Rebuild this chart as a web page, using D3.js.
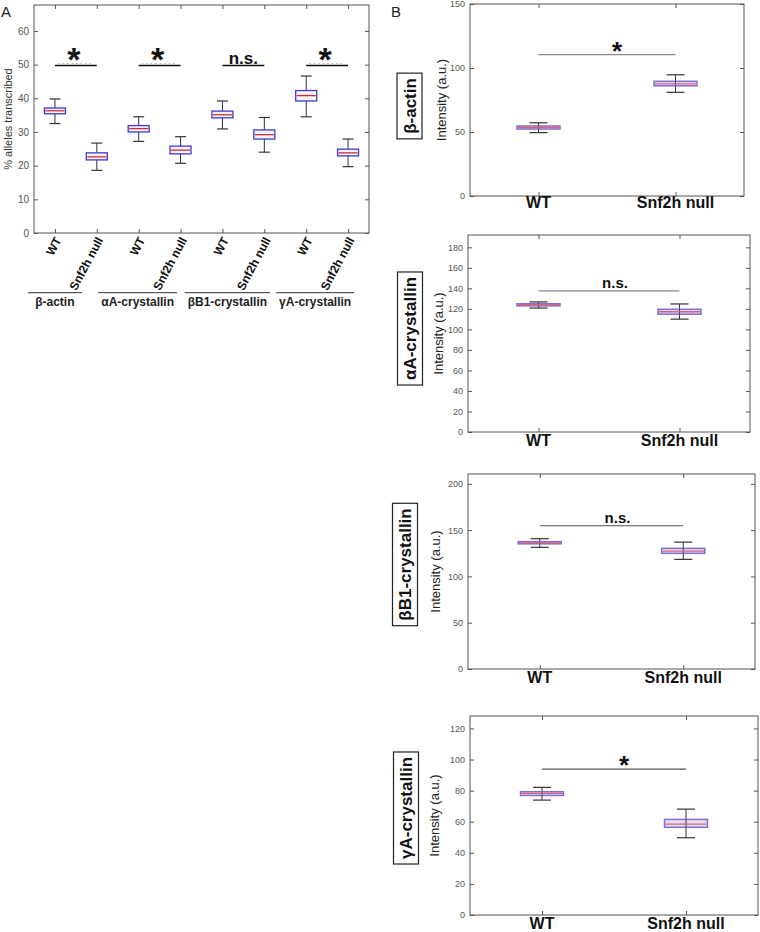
<!DOCTYPE html>
<html><head><meta charset="utf-8">
<script src="https://cdn.jsdelivr.net/npm/d3@7"></script>
<style>body{margin:0;background:#fff;} svg{display:block;font-family:"Liberation Sans",Arial,sans-serif;}</style>
</head><body><svg id="c" width="760" height="932"></svg>
<script>
// ---------- DATA ----------
const genes = ["β-actin","αA-crystallin","βB1-crystallin","γA-crystallin"];
const conditions = ["WT","Snf2h null"];
// each box: [min, q1, median, q3, max]
// Panel A (% alleles transcribed)
const aWT   = [[32.5,35.4,36.3,37.1,39.8],[27.2,30.0,31.0,31.9,34.5],[30.9,34.2,35.1,36.2,39.2],[34.5,39.2,40.8,42.3,46.6]];
const aNull = [[18.6,21.7,22.6,23.8,26.7],[20.7,23.5,24.6,25.8,28.6],[24.0,27.9,29.2,30.6,34.3],[19.7,22.9,23.8,24.9,27.9]];
const aSig = ["*","*","n.s.","*"];
const aSigLevel = 49.7;
const aYMax = 67.7;
const aYTicks = [0,10,20,30,40,50,60];
const aYLabel = "% alleles transcribed";
// Panel B (Intensity)
const bWT   = [[49.5,52.3,53.5,54.7,57.2],[120.8,122.9,124.0,125.0,126.8],[131.4,135.2,136.3,137.5,140.7],[73.9,76.9,78.2,79.3,82.1]];
const bNull = [[81.0,86.1,87.6,89.6,94.7],[110.0,114.8,117.2,119.6,124.8],[118.4,124.9,127.3,130.3,137.0],[49.7,56.4,58.5,61.5,68.1]];
const bSig = ["*","n.s.","n.s.","*"];
const bSigLevel = [110.4,137.5,154.7,93.8];
const bYMax = [150,192,210.6,128];
const bYTicks = [[0,50,100,150],[0,20,40,60,80,100,120,140,160,180],[0,50,100,150,200],[0,20,40,60,80,100,120]];
const bYLabel = "Intensity (a.u.)";

// ---------- LAYOUT ----------
const svg = d3.select("#c");
const frameColor = "#555";
const tickTextColor = "#555";

function frameAndAxes(g, x, y, positions, yTicks, tickFont) {
  const [l, r] = x.range();
  const [b, t] = y.range();
  g.append("rect").attr("x", l).attr("y", t).attr("width", r - l).attr("height", b - t)
    .attr("fill", "none").attr("stroke", frameColor).attr("stroke-width", 1);
  const left = g.append("g").attr("transform", `translate(${l},0)`)
    .call(d3.axisLeft(y).tickValues(yTicks).tickSize(-4).tickPadding(5).tickFormat(d3.format("d")));
  const right = g.append("g").attr("transform", `translate(${r},0)`)
    .call(d3.axisRight(y).tickValues(yTicks).tickSize(-4).tickFormat(""));
  const top = g.append("g").attr("transform", `translate(0,${t})`)
    .call(d3.axisTop(x).tickValues(positions).tickSize(-4).tickFormat(""));
  const bot = g.append("g").attr("transform", `translate(0,${b})`)
    .call(d3.axisBottom(x).tickValues(positions).tickSize(-4).tickFormat(""));
  [left, right, top, bot].forEach(a => {
    a.select(".domain").remove();
    a.selectAll(".tick line").attr("stroke", frameColor);
  });
  left.selectAll(".tick text").attr("fill", tickTextColor).style("font-size", tickFont + "px")
    .style("font-family", "Liberation Sans, Arial, sans-serif");
}

function drawBox(g, x, y, pos, s, st) {
  const [mn, q1, md, q3, mx] = s;
  const cx = x(pos);
  g.append("line").attr("x1", cx).attr("x2", cx).attr("y1", y(mx)).attr("y2", y(q3)).attr("stroke", "#333").attr("stroke-width", 1);
  g.append("line").attr("x1", cx).attr("x2", cx).attr("y1", y(q1)).attr("y2", y(mn)).attr("stroke", "#333").attr("stroke-width", 1);
  [mn, mx].forEach(v => g.append("line").attr("x1", cx - st.cap).attr("x2", cx + st.cap)
    .attr("y1", y(v)).attr("y2", y(v)).attr("stroke", "#333").attr("stroke-width", 1.2));
  g.append("rect").attr("x", cx - st.hw).attr("y", y(q3)).attr("width", 2 * st.hw)
    .attr("height", Math.max(y(q1) - y(q3), 1)).attr("fill", st.fill).attr("fill-opacity", 0.85)
    .attr("stroke", st.stroke).attr("stroke-width", st.sw);
  if (st.through) {
    g.append("line").attr("x1", cx).attr("x2", cx).attr("y1", y(q3)).attr("y2", y(q1)).attr("stroke", "#333").attr("stroke-width", 1);
  }
  g.append("line").attr("x1", cx - st.hw + 1).attr("x2", cx + st.hw - 1).attr("y1", y(md)).attr("y2", y(md))
    .attr("stroke", st.median).attr("stroke-width", 1.3);
}

// ---------- PANEL A ----------
(function () {
  const g = svg.append("g");
  const n = genes.length * conditions.length;
  const positions = d3.range(1, n + 1);
  const x = d3.scaleLinear().domain([0.5, n + 0.5]).range([34, 369]);
  const y = d3.scaleLinear().domain([0, aYMax]).range([233, 5]);
  frameAndAxes(g, x, y, positions, aYTicks, 10);
  const st = { hw: 10.5, cap: 5.5, fill: "#f7eef4", stroke: "#3b3bd4", sw: 1.3, median: "#c83030", through: false };
  genes.forEach((gene, i) => {
    drawBox(g, x, y, 2 * i + 1, aWT[i], st);
    drawBox(g, x, y, 2 * i + 2, aNull[i], st);
    const x1 = x(2 * i + 1), x2 = x(2 * i + 2), ly = y(aSigLevel);
    g.append("line").attr("x1", x1).attr("x2", x2).attr("y1", ly).attr("y2", ly).attr("stroke", "#111").attr("stroke-width", 1.5);
    if (aSig[i] === "*") {
      g.append("line").attr("x1", x1 + 3).attr("x2", x2 - 6).attr("y1", ly - 2).attr("y2", ly - 2)
        .attr("stroke", "#aaa").attr("stroke-width", 1).attr("stroke-dasharray", "1.5,3");
      g.append("text").attr("x", (x1 + x2) / 2 - 2).attr("y", ly + 5).attr("text-anchor", "middle")
        .style("font-size", "34px").style("font-weight", "bold").attr("fill", "#111").text("*");
    } else {
      g.append("text").attr("x", (x1 + x2) / 2).attr("y", ly - 2).attr("text-anchor", "middle")
        .style("font-size", "17px").style("font-weight", "bold").attr("fill", "#111").text(aSig[i]);
    }
  });
  positions.forEach((p, k) => {
    g.append("text").attr("transform", `translate(${x(p) + 3},${238}) rotate(-62)`)
      .attr("text-anchor", "end").attr("dy", "0.35em")
      .style("font-size", "12px").style("font-weight", "bold").attr("fill", "#111")
      .text(conditions[k % 2]);
  });
  const groupShift = [-21, -22, -16, -12];
  genes.forEach((gene, i) => {
    const cx = (x(2 * i + 1) + x(2 * i + 2)) / 2 + groupShift[i];
    const t = g.append("text").attr("x", cx).attr("y", 306).attr("text-anchor", "middle")
      .style("font-size", "12px").style("font-weight", "bold").attr("fill", "#222").text(gene);
    const w = Math.max(t.node().getBBox().width + 6, 54);
    g.append("line").attr("x1", cx - w / 2).attr("x2", cx + w / 2).attr("y1", 292.7).attr("y2", 292.7)
      .attr("stroke", "#333").attr("stroke-width", 1);
  });
  g.append("text").attr("transform", `translate(12,${119}) rotate(-90)`).attr("text-anchor", "middle")
    .style("font-size", "11px").attr("fill", "#333").text(aYLabel);
  svg.append("text").attr("x", 1).attr("y", 17).style("font-size", "15px").attr("fill", "#222").text("A");
})();

// ---------- PANEL B ----------
const bFrames = [
  { l: 470, r: 744, t: 4, b: 196, gx: 409.5, gy: 106, ylx: 446, xlY: 208 },
  { l: 468, r: 750, t: 235, b: 432, gx: 410, gy: 328.5, ylx: 443, xlY: 446 },
  { l: 468, r: 755, t: 474, b: 669, gx: 405, gy: 564.5, ylx: 440, xlY: 683 },
  { l: 470, r: 758, t: 716, b: 915, gx: 406, gy: 808, ylx: 439, xlY: 929 }
];
svg.append("text").attr("x", 391).attr("y", 17).style("font-size", "15px").attr("fill", "#222").text("B");
genes.forEach((gene, i) => {
  const f = bFrames[i];
  const g = svg.append("g");
  const positions = [1, 2];
  const x = d3.scaleLinear().domain([0.5, 2.5]).range([f.l, f.r]);
  const y = d3.scaleLinear().domain([0, bYMax[i]]).range([f.b, f.t]);
  frameAndAxes(g, x, y, positions, bYTicks[i], 9);
  const st = { hw: 21.5, cap: 9, fill: "#ddd4f0", stroke: "#7e6fd0", sw: 1.5, median: "#d8607a", through: true };
  drawBox(g, x, y, 1, bWT[i], st);
  drawBox(g, x, y, 2, bNull[i], st);
  const x1 = x(1), x2 = x(2), ly = y(bSigLevel[i]);
  g.append("line").attr("x1", x1).attr("x2", x2).attr("y1", ly).attr("y2", ly)
    .attr("stroke", i < 2 ? "#888" : "#555").attr("stroke-width", 1.2);
  if (bSig[i] === "*") {
    g.append("text").attr("x", (x1 + x2) / 2 + 10).attr("y", ly + 5).attr("text-anchor", "middle")
      .style("font-size", "26px").style("font-weight", "bold").attr("fill", "#111").text("*");
  } else {
    g.append("text").attr("x", (x1 + x2) / 2 + 6).attr("y", ly - 3).attr("text-anchor", "middle")
      .style("font-size", "15px").style("font-weight", "bold").attr("fill", "#111").text(bSig[i]);
  }
  conditions.forEach((c, k) => {
    g.append("text").attr("x", x(k + 1)).attr("y", f.xlY).attr("text-anchor", "middle")
      .style("font-size", "16px").style("font-weight", "bold").attr("fill", "#111").text(c);
  });
  g.append("text").attr("transform", `translate(${f.ylx},${(f.t + f.b) / 2}) rotate(-90)`)
    .attr("text-anchor", "middle").style("font-size", "13px").attr("fill", "#222").text(bYLabel);
  const gt = g.append("text").attr("transform", `translate(${f.gx + 6},${f.gy}) rotate(-90)`)
    .attr("text-anchor", "middle").style("font-size", "17px").style("font-weight", "bold").attr("fill", "#111").text(gene);
  const bb = gt.node().getBBox();
  const h = bb.width + 10, w = 25;
  g.insert("rect", () => gt.node()).attr("x", f.gx - w / 2).attr("y", f.gy - h / 2).attr("width", w).attr("height", h)
    .attr("fill", "#fff").attr("stroke", "#222").attr("stroke-width", 1.2);
});
</script></body></html>
